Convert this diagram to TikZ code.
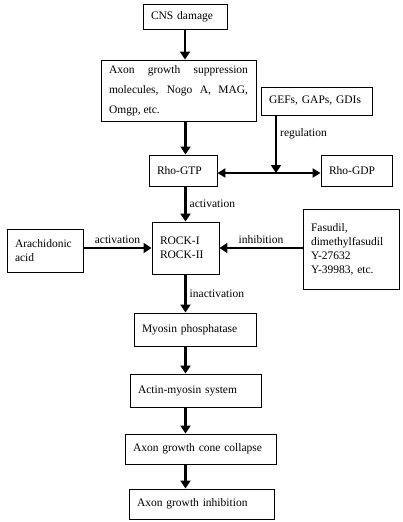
\documentclass[tikz,border=0pt]{standalone}
\usepackage{fontspec}
\setmainfont{Liberation Serif}
\usetikzlibrary{arrows.meta, positioning, calc}

\begin{document}
\begin{tikzpicture}[
    x=1pt, y=-1pt,
    every node/.style={font=\fontsize{11.5}{14}\selectfont},
    box/.style={draw, line width=0.9pt, align=left, inner xsep=8pt, inner ysep=3pt},
    flow/.style={-{Triangle[width=10pt,length=8pt]}, line width=2.4pt},
    both/.style={{Triangle[width=9pt,length=8pt]}-{Triangle[width=9pt,length=8pt]}, line width=2pt},
    note/.style={inner sep=3pt}
]
\useasboundingbox (0,0) rectangle (402,522);

% boxes
\node[box, text width=68pt, minimum height=25pt] (cns) at (185,16.5) {CNS damage};
\node[box, text width=139pt, minimum height=61pt, align=justify,
      font=\fontsize{11.5}{20}\selectfont] (supp) at (178.5,90.5)
      {Axon growth suppression\linebreak molecules, Nogo A, MAG,\linebreak Omgp, etc.};
\node[box, text width=95pt, minimum height=28pt] (gef) at (316.5,101) {GEFs, GAPs, GDIs};
\node[box, text width=52pt, minimum height=31pt] (gtp) at (183,170.5) {Rho-GTP};
\node[box, text width=55pt, minimum height=31pt] (gdp) at (356.5,170.5) {Rho-GDP};
\node[box, text width=51pt, minimum height=52pt] (rock) at (185.5,248) {ROCK-I\\ROCK-II};
\node[box, text width=60pt, minimum height=43pt] (arach) at (45,250.5) {Arachidonic\\acid};
\node[box, text width=80pt, minimum height=80pt] (fas) at (351,249)
      {Fasudil,\\dimethylfasudil\\Y-27632\\Y-39983, etc.};
\node[box, text width=106pt, minimum height=33pt] (myo) at (195,329.5) {Myosin phosphatase};
\node[box, text width=115pt, minimum height=33pt] (actin) at (195.5,390.5) {Actin-myosin system};
\node[box, text width=135pt, minimum height=30pt] (cone) at (200.5,449) {Axon growth cone collapse};
\node[box, text width=129pt, minimum height=30pt] (inh) at (201.5,504) {Axon growth inhibition};

% Rho-GTP / Rho-GDP
\coordinate (reg) at (276,173);
\draw[both] (gtp.east |- reg) -- (gdp.west |- reg);
\draw[flow] (gef.south -| reg) -- node[right, note, pos=0.32] {regulation} (reg);

% main chain
\draw[flow] (cns.south) -- (cns.south |- supp.north);
\draw[flow] (rock.north |- supp.south) -- (rock.north |- gtp.north);
\draw[flow] (rock.north |- gtp.south) -- node[right, note] {activation} (rock.north);
\draw[flow] (rock.south) -- node[right, note] {inactivation} (rock.south |- myo.north);
\draw[flow] (rock.south |- myo.south) -- (rock.south |- actin.north);
\draw[flow] (rock.south |- actin.south) -- (rock.south |- cone.north);
\draw[flow] (rock.south |- cone.south) -- (rock.south |- inh.north);

% side inputs
\draw[flow] (arach.east |- rock.west) -- node[above, note] {activation} (rock.west);
\draw[flow] (fas.west |- rock.east) -- node[above, note] {inhibition} (rock.east);

\end{tikzpicture}
\end{document}
